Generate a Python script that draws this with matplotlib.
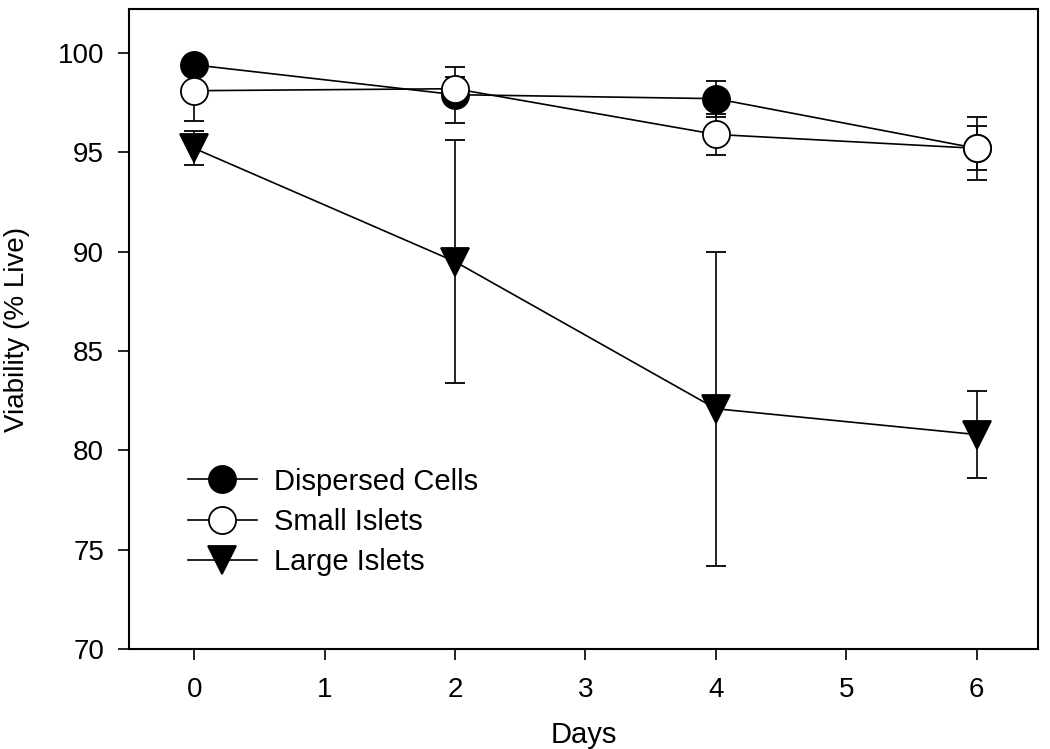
import matplotlib
matplotlib.use("Agg")
import matplotlib.pyplot as plt
from matplotlib.lines import Line2D

plt.rcParams['font.family'] = ['Liberation Sans', 'DejaVu Sans']

days = [0, 2, 4, 6]

dispersed = [99.4, 97.9, 97.7, 95.2]
dispersed_err = [0.3, 1.4, 0.9, 1.1]

small = [98.1, 98.2, 95.9, 95.2]
small_err = [1.5, 0.6, 1.05, 1.6]

large = [95.2, 89.5, 82.1, 80.8]
large_err = [0.85, 6.1, 7.9, 2.2]

labels = ['Dispersed Cells', 'Small Islets', 'Large Islets']

fig = plt.figure(figsize=(10.5, 7.49), dpi=100)
ax = fig.add_axes([0.1229, 0.1332, 0.8657, 0.8545])

series = [
    (dispersed, dispersed_err, 'o', 'black', labels[0]),
    (small, small_err, 'o', 'white', labels[1]),
    (large, large_err, 'v', 'black', labels[2]),
]

handles = []
for i, (vals, err, mk, fc, lab) in enumerate(series):
    ms = 19.5 if mk == 'o' else 20
    ax.errorbar(days, vals, yerr=err, color='black', lw=1.2,
                elinewidth=1.2, capsize=7, capthick=1.2,
                marker=mk, markersize=ms,
                markerfacecolor=fc, markeredgecolor='black',
                markeredgewidth=1.3, zorder=3 + i)
    handles.append(Line2D([], [], color='black', lw=1.2, marker=mk,
                          markersize=ms, markerfacecolor=fc,
                          markeredgecolor='black', markeredgewidth=1.3,
                          label=lab))

ax.set_xlim(-0.5, 6.47)
ax.set_ylim(70, 102.2)
ax.set_xticks(range(0, 7))
ax.set_yticks(range(70, 101, 5))

for s in ax.spines.values():
    s.set_linewidth(1.5)

ax.tick_params(axis='both', direction='out', length=8, width=1.2,
               labelsize=20)
ax.tick_params(axis='x', pad=12)
ax.tick_params(axis='y', pad=10)

ax.set_xlabel('Days', fontsize=21, labelpad=13)
ax.set_ylabel('Viability (% Live)', fontsize=20, labelpad=20)

ax.legend(handles=handles, loc='center left', bbox_to_anchor=(0.049, 0.199),
          frameon=False, fontsize=21, handlelength=2.35, borderpad=0,
          labelspacing=0.42, handletextpad=0.6, numpoints=1)

fig.savefig('out.png', dpi=100)
